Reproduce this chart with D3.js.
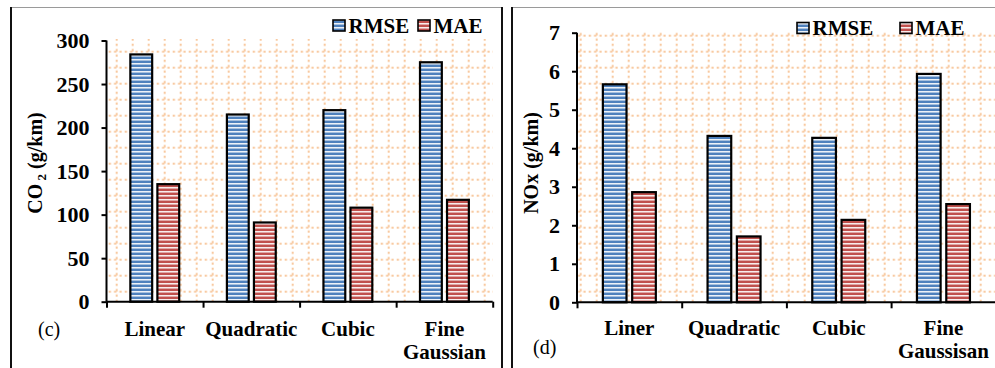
<!DOCTYPE html>
<html>
<head>
<meta charset="utf-8">
<script src="https://cdn.jsdelivr.net/npm/d3@7"></script>
<style>
  html, body { margin: 0; padding: 0; background: #fff; }
  svg { display: block; }
  text { font-family: "Liberation Serif", "Times New Roman", serif; }
</style>
</head>
<body>
<svg id="chart" width="995" height="368"></svg>
<script>
// Model error comparison for CO2 and NOx predictions
const seriesNames = ["RMSE", "MAE"];
const co2Categories = ["Linear", "Quadratic", "Cubic", "Fine\nGaussian"];
const co2Rmse = [284, 215, 220, 275];
const co2Mae = [135, 91, 108, 117];
const co2Ticks = [0, 50, 100, 150, 200, 250, 300];

const noxCategories = ["Liner", "Quadratic", "Cubic", "Fine\nGaussisan"];
const noxRmse = [5.66, 4.32, 4.27, 5.93];
const noxMae = [2.86, 1.71, 2.14, 2.55];
const noxTicks = [0, 1, 2, 3, 4, 5, 6, 7];

const colors = ["#4f81bd", "#c0504d"];

const svg = d3.select("#chart");
const defs = svg.append("defs");

// Horizontal stripe fills for the bars
colors.forEach((c, i) => {
  const p = defs.append("pattern")
    .attr("id", "stripe" + i)
    .attr("patternUnits", "userSpaceOnUse")
    .attr("width", 8).attr("height", 4);
  p.append("rect").attr("width", 8).attr("height", 4).attr("fill", "#fff");
  p.append("rect").attr("y", 0.5).attr("width", 8).attr("height", 2.6).attr("fill", c);
});

// Dotted grid fill for the plot areas
const grid = defs.append("pattern")
  .attr("id", "dotgrid")
  .attr("patternUnits", "userSpaceOnUse")
  .attr("x", -3.3).attr("y", -4.3)
  .attr("width", 16).attr("height", 16);
grid.append("line").attr("x1", 8).attr("x2", 8).attr("y1", 0).attr("y2", 16)
  .attr("stroke", "#f8c9a0").attr("stroke-width", 2).attr("stroke-dasharray", "2.3,3.03");
grid.append("line").attr("y1", 8).attr("y2", 8).attr("x1", 0).attr("x2", 16)
  .attr("stroke", "#f8c9a0").attr("stroke-width", 2).attr("stroke-dasharray", "2.3,3.03");

// Panel frames
const frame = svg.append("g");
frame.append("line").attr("x1", 11).attr("x2", 502).attr("y1", 7.5).attr("y2", 7.5)
  .attr("stroke", "#9a9a9a").attr("stroke-width", 1);
frame.append("line").attr("x1", 512).attr("x2", 995).attr("y1", 7.5).attr("y2", 7.5)
  .attr("stroke", "#9a9a9a").attr("stroke-width", 1);
[11, 502, 512].forEach(xv => {
  frame.append("line").attr("x1", xv).attr("x2", xv).attr("y1", 7).attr("y2", 368)
    .attr("stroke", "#111").attr("stroke-width", 2);
});

function drawPanel(cfg) {
  const g = svg.append("g");
  const x = d3.scaleBand().domain(cfg.categories).range([cfg.x0, cfg.x1]);
  const xEdge = d3.scaleLinear().domain([0, cfg.categories.length]).range([cfg.x0, cfg.x1]);
  const y = d3.scaleLinear().domain([0, d3.max(cfg.ticks)]).range([cfg.yBot, cfg.yTop]);
  const bw = x.bandwidth();

  // plot area
  g.append("rect")
    .attr("x", cfg.x0).attr("y", cfg.plotTop)
    .attr("width", cfg.plotRight - cfg.x0).attr("height", cfg.yBot - cfg.plotTop)
    .attr("fill", "url(#dotgrid)");

  // bars
  const series = [cfg.rmse, cfg.mae];
  const barW = 0.226 * bw;
  const offs = [-0.14 * bw, 0.14 * bw];
  series.forEach((vals, s) => {
    g.append("g").selectAll("rect")
      .data(cfg.categories.map((c, i) => ({ c, v: vals[i] })))
      .join("rect")
      .attr("x", d => x(d.c) + bw / 2 + offs[s] - barW / 2)
      .attr("y", d => y(d.v))
      .attr("width", barW)
      .attr("height", d => y(0) - y(d.v))
      .attr("fill", "url(#stripe" + s + ")")
      .attr("stroke", "#000").attr("stroke-width", 2.2);
  });

  // y axis
  const ya = g.append("g").attr("transform", `translate(${cfg.x0},0)`)
    .call(d3.axisLeft(y).tickValues(cfg.ticks).tickSize(5).tickPadding(12).tickFormat(d3.format("d")));
  ya.select(".domain").attr("stroke", "#000").attr("stroke-width", 2)
    .attr("d", `M0,${cfg.yTop}V${cfg.yBot}`);
  ya.selectAll(".tick line").attr("stroke", "#000").attr("stroke-width", 2);
  ya.selectAll(".tick text").attr("font-family", "Liberation Serif, serif")
    .attr("font-size", 22).attr("font-weight", "bold").attr("fill", "#000");

  // x axis with ticks at category boundaries
  const xa = g.append("g").attr("transform", `translate(0,${cfg.yBot})`)
    .call(d3.axisBottom(xEdge).tickValues(d3.range(cfg.categories.length + 1)).tickSize(6).tickFormat(""));
  xa.select(".domain").attr("stroke", "#000").attr("stroke-width", 2)
    .attr("d", `M${cfg.x0},0H${cfg.x1}`);
  xa.selectAll(".tick line").attr("stroke", "#000").attr("stroke-width", 2);

  // category labels
  const cl = g.append("g").selectAll("text").data(cfg.categories).join("text")
    .attr("x", d => x(d) + bw / 2)
    .attr("y", cfg.labelY)
    .attr("text-anchor", "middle")
    .attr("font-size", 21).attr("font-weight", "bold").attr("fill", "#000");
  cl.each(function (d) {
    const lines = d.split("\n");
    lines.forEach((ln, i) => {
      d3.select(this).append("tspan")
        .attr("x", x(d) + bw / 2)
        .attr("dy", i === 0 ? 0 : 23)
        .text(ln);
    });
  });

  // y axis title with subscript
  const t = g.append("text")
    .attr("transform", `translate(${cfg.titleX},${cfg.titleY}) rotate(-90)`)
    .attr("text-anchor", "middle")
    .attr("font-size", 20).attr("font-weight", "bold").attr("fill", "#000");
  cfg.title.forEach(part => {
    const ts = t.append("tspan").text(part.text);
    if (part.sub) ts.attr("font-size", 13).attr("dy", 4);
    else if (part.after) ts.attr("dy", -4);
  });

  // panel letter
  g.append("text").attr("x", cfg.letterX).attr("y", cfg.letterY)
    .attr("font-size", 20).attr("fill", "#000").text(cfg.letter);

  // legend
  const lg = g.append("g");
  seriesNames.forEach((name, i) => {
    lg.append("rect")
      .attr("x", cfg.legend[i]).attr("y", cfg.legendY - 12.5)
      .attr("width", 12).attr("height", 11)
      .attr("fill", "url(#stripe" + i + ")")
      .attr("stroke", "#000").attr("stroke-width", 1.6);
    lg.append("text")
      .attr("x", cfg.legend[i] + 15.5).attr("y", cfg.legendY)
      .attr("font-size", 21).attr("font-weight", "bold").attr("fill", "#000")
      .text(name);
  });
}

drawPanel({
  categories: co2Categories, rmse: co2Rmse, mae: co2Mae, ticks: co2Ticks,
  x0: 106.5, x1: 492.7, plotRight: 493, yTop: 40.5, yBot: 301.7, plotTop: 39,
  labelY: 335.5,
  title: [{ text: "CO" }, { text: " 2", sub: true }, { text: " (g/km)", after: true }],
  titleX: 42, titleY: 163,
  letter: "(c)", letterX: 38, letterY: 336,
  legend: [333, 418], legendY: 32.5
});

drawPanel({
  categories: noxCategories, rmse: noxRmse, mae: noxMae, ticks: noxTicks,
  x0: 577, x1: 995.8, plotRight: 995, yTop: 32.7, yBot: 302.3, plotTop: 31,
  labelY: 334.5,
  title: [{ text: "NOx (g/km)" }],
  titleX: 538, titleY: 163,
  letter: "(d)", letterX: 533, letterY: 354,
  legend: [797, 900], legendY: 35
});
</script>
</body>
</html>
